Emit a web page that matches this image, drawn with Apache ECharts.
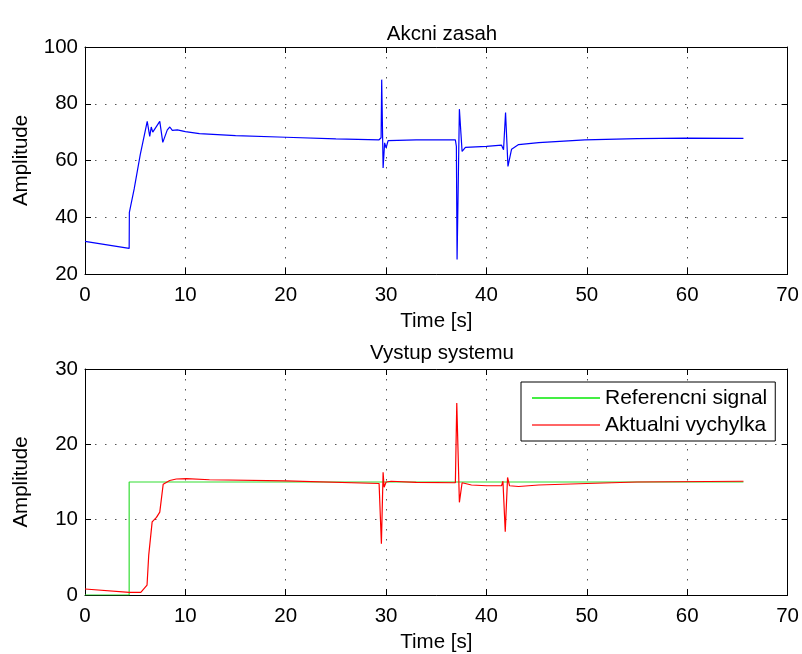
<!DOCTYPE html>
<html style="height: 100%">
<head>
    <meta charset="utf-8" />
    <title>Akcni zasah / Vystup systemu</title>
    <script type="text/javascript" src="https://cdn.jsdelivr.net/npm/echarts@6.0.0/dist/echarts.min.js"></script>
</head>
<body style="height: 100%; margin: 0; background: #fff">
    <div id="container" style="width: 802px; height: 654px"></div>
</body>
</html>
<script type="text/javascript">
    // horni graf - akcni zasah
    var uTime = [0, 4.4, 4.42, 4.9, 5.5, 6.2, 6.45, 6.6, 6.75, 7.45, 7.75, 8.2, 8.45, 8.7, 9.2, 10, 11.4, 15, 20, 25,
        29.3, 29.5, 29.56, 29.7, 29.85, 30.0, 30.2, 33, 36.9, 37.0, 37.07, 37.3, 37.57, 37.9, 40, 41.5, 41.7, 41.9,
        42.14, 42.5, 43.2, 45.2, 49.8, 55, 59.75, 65.6];
    var uValue = [31.5, 29.0, 41.7, 50, 62, 73.8, 68.5, 71.8, 70, 73.8, 66.4, 70.8, 71.8, 70.6, 70.8, 70.2, 69.5, 68.8, 68.2, 67.6,
        67.3, 68, 88.5, 57.4, 66.2, 64.5, 67.0, 67.3, 67.3, 65, 25.1, 78.1, 63.2, 64.6, 65, 65.4, 63.8, 76.9,
        57.9, 64, 65.6, 66.3, 67.3, 67.7, 67.9, 67.8];

    // dolni graf - reference a vystup
    var refTime = [0, 4.4, 4.4, 65.6];
    var refValue = [0, 0, 15, 15];
    var yTime = [0, 4.4, 5.56, 6.18, 6.35, 6.69, 7.12, 7.45, 7.79, 8.44, 9.1, 10.1, 12.4, 20, 29.3, 29.53, 29.7, 29.8, 30.0, 30.5,
        33, 36.9, 37.04, 37.3, 37.57, 38.5, 40, 41.5, 41.64, 41.87, 42.1, 42.3, 43.2, 45.2, 50, 55, 65.6];
    var yValue = [0.8, 0.36, 0.35, 1.3, 5.3, 9.7, 10.3, 11.0, 14.7, 15.2, 15.4, 15.45, 15.3, 15.15, 14.8, 6.8, 16.3, 14.3, 15.0, 15.1,
        14.95, 14.9, 25.5, 12.3, 14.9, 14.6, 14.5, 14.5, 15.1, 8.4, 15.6, 14.5, 14.4, 14.6, 14.8, 15.0, 15.1];

    var xTicks = {min: 0, max: 70, interval: 10};
    var uTicks = {min: 20, max: 100, interval: 20};
    var yTicks = {min: 0, max: 30, interval: 10};

    function pairs(t, v) {
        return t.map(function (x, i) { return [x, v[i]]; });
    }

    var font = 'Liberation Sans, Arial, sans-serif';
    var fs = 20.5;
    var gridLine = {show: true, lineStyle: {color: '#555', type: [1.5, 8.5], width: 1}};

    function xAx(grid, top) {
        return {
            type: 'value', gridIndex: grid, position: top ? 'top' : 'bottom',
            min: xTicks.min, max: xTicks.max, interval: xTicks.interval,
            name: top ? '' : 'Time [s]', nameLocation: 'middle', nameGap: 37,
            nameTextStyle: {fontFamily: font, fontSize: fs, color: '#000'},
            axisLine: {show: true, onZero: false, lineStyle: {color: '#000', width: 1}},
            axisTick: {show: true, inside: true, length: 6, lineStyle: {color: '#000'}},
            axisLabel: {show: !top, margin: 11, fontFamily: font, fontSize: fs, color: '#000'},
            splitLine: top ? {show: false} : gridLine
        };
    }

    function yAx(grid, ticks, right) {
        return {
            type: 'value', gridIndex: grid, position: right ? 'right' : 'left',
            min: ticks.min, max: ticks.max, interval: ticks.interval,
            name: right ? '' : 'Amplitude', nameLocation: 'middle', nameGap: 53,
            nameTextStyle: {fontFamily: font, fontSize: fs, color: '#000'},
            axisLine: {show: true, onZero: false, lineStyle: {color: '#000', width: 1}},
            axisTick: {show: true, inside: true, length: 6, lineStyle: {color: '#000'}},
            axisLabel: {show: !right, margin: 7, fontFamily: font, fontSize: fs, color: '#000'},
            splitLine: right ? {show: false} : gridLine
        };
    }

    var myChart = echarts.init(document.getElementById('container'));
    var option = {
        backgroundColor: '#fff',
        animation: false,
        title: [
            {text: 'Akcni zasah', left: 437, textAlign: 'center', top: 19,
                textStyle: {fontFamily: font, fontSize: fs, fontWeight: 'normal', color: '#000'}},
            {text: 'Vystup systemu', left: 437, textAlign: 'center', top: 338,
                textStyle: {fontFamily: font, fontSize: fs, fontWeight: 'normal', color: '#000'}}
        ],
        grid: [
            {left: 85, right: 12, top: 47, height: 227},
            {left: 85, right: 12, top: 369, height: 228}
        ],
        xAxis: [xAx(0, false), xAx(0, true), xAx(1, false), xAx(1, true)],
        yAxis: [yAx(0, uTicks, false), yAx(0, uTicks, true), yAx(1, yTicks, false), yAx(1, yTicks, true)],
        legend: {
            left: 521, top: 382, orient: 'vertical',
            data: ['Referencni signal', 'Aktualni vychylka'],
            backgroundColor: '#fff', borderColor: '#000', borderWidth: 1, borderRadius: 0,
            padding: [5, 8, 5, 11], itemGap: 5, itemWidth: 68, itemHeight: 2, icon: 'rect',
            textStyle: {fontFamily: font, fontSize: 21, color: '#000', lineHeight: 22}
        },
        series: [
            {name: 'Akcni zasah', type: 'line', xAxisIndex: 0, yAxisIndex: 0, symbol: 'none',
                data: pairs(uTime, uValue), lineStyle: {color: '#0000ff', width: 1.2}, itemStyle: {color: '#0000ff'}},
            {name: 'Referencni signal', type: 'line', xAxisIndex: 2, yAxisIndex: 2, symbol: 'none',
                data: pairs(refTime, refValue), lineStyle: {color: '#33dd33', width: 1.2}, itemStyle: {color: '#44ee44'}},
            {name: 'Aktualni vychylka', type: 'line', xAxisIndex: 2, yAxisIndex: 2, symbol: 'none',
                data: pairs(yTime, yValue), lineStyle: {color: '#ff0000', width: 1.2}, itemStyle: {color: '#ff6666'}}
        ]
    };
    myChart.setOption(option);
</script>
